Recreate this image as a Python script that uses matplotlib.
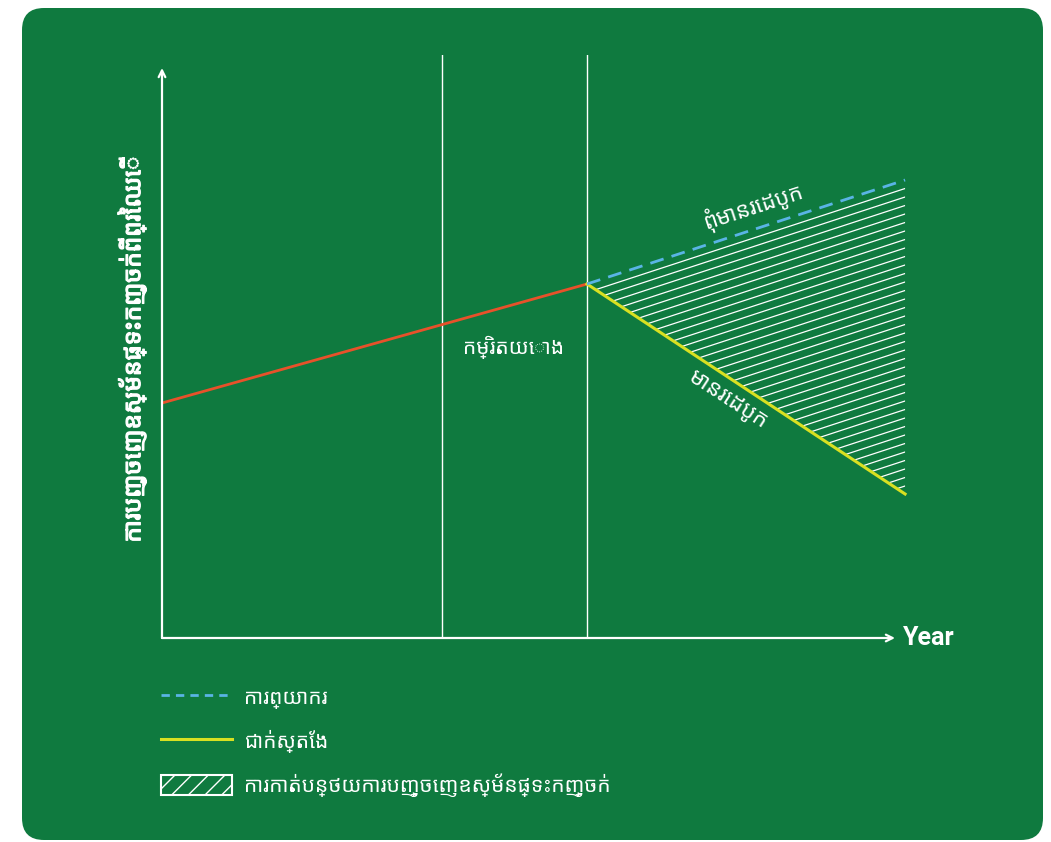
import numpy as np
import matplotlib
matplotlib.use("Agg")
import matplotlib.pyplot as plt
import matplotlib.patheffects as pe
from matplotlib.patches import FancyBboxPatch, Polygon, Patch
from matplotlib.lines import Line2D

# --- data (x in years from start, y in relative emission units) ---
ref_years = [0, 15.18]
ref_emis = [23.5, 35.4]
proj_years = [15.18, 26.54]
proj_emis = [35.4, 45.8]
actual_years = [15.18, 26.54]
actual_emis = [35.4, 14.4]
period_marks = [10.0, 15.18]

ylabel = "ការបញ្ចេញឧស្ម័នផ្ទះកញ្ចក់ពីព្រៃឈើ"
lbl_ref = "កម្រិតយោង"
lbl_without = "ពុំមានរេដបូក"
lbl_with = "មានរេដបូក"
leg_labels = ["ការព្យាករ", "ជាក់ស្តែង", "ការកាត់បន្ថយការបញ្ចេញឧស្ម័នផ្ទះកញ្ចក់"]

GREEN = "#0f7a3f"
RED = "#e8512a"
YELLOW = "#d8e021"
BLUE = "#5ab4e5"

plt.rcParams["font.family"] = ["Noto Sans Khmer", "Roboto", "DejaVu Sans"]
plt.rcParams["hatch.color"] = "white"

fig = plt.figure(figsize=(10.51, 8.42), dpi=100)

# rounded green card behind everything
bg = fig.add_axes([0, 0, 1, 1])
bg.set_xlim(0, 1051)
bg.set_ylim(842, 0)
bg.axis("off")
bg.add_patch(FancyBboxPatch((22, 8), 1021, 832,
                            boxstyle="round,pad=0,rounding_size=22",
                            fc=GREEN, ec="none"))

ax = fig.add_axes([162 / 1051, (842 - 638) / 842, (930 - 162) / 1051, (638 - 55) / 842])
ax.set_facecolor("none")
ax.set_xlim(0, 27.43)
ax.set_ylim(0, 58.3)
for s in ax.spines.values():
    s.set_visible(False)
ax.set_xticks([])
ax.set_yticks([])

# axes arrows
arr = dict(arrowstyle="->", color="white", lw=1.6, shrinkA=0, shrinkB=0,
           mutation_scale=12)
ax.annotate("", xy=(0, 57.0), xytext=(0, 0), arrowprops=arr, annotation_clip=False)
ax.annotate("", xy=(26.18, 0), xytext=(0, 0), arrowprops=arr, annotation_clip=False)
ax.text(26.46, 0, "Year", color="white", fontsize=18, fontweight="bold",
        family=["Roboto", "DejaVu Sans"], ha="left", va="center")

for xm in period_marks:
    ax.plot([xm, xm], [0, 58.3], color="white", lw=1.0)

# hatched reduction area
poly = Polygon([(proj_years[0], proj_emis[0]), (proj_years[1], proj_emis[1]),
                (actual_years[1], actual_emis[1])], closed=True,
               fc="none", ec="none")
ax.add_patch(poly)
slope = (proj_emis[1] - proj_emis[0]) / (proj_years[1] - proj_years[0])
span = proj_emis[1] - actual_emis[1]
for off in np.arange(0.85, span + 0.85, 0.85):
    y0 = proj_emis[0] - off
    ln, = ax.plot(proj_years, [y0, y0 + slope * (proj_years[1] - proj_years[0])],
                  color="white", lw=0.9)
    ln.set_clip_path(poly)

ax.plot(ref_years, ref_emis, color=RED, lw=2)
ax.plot(actual_years, actual_emis, color=YELLOW, lw=2.2)
ax.plot(proj_years, proj_emis, color=BLUE, lw=2, ls=(0, (5, 3)))

ax.text(12.55, 29.1, lbl_ref, color="white", fontsize=15, ha="center", va="center")
ax.text(21.1, 43.2, lbl_without, color="white", fontsize=16, ha="center",
        va="center", rotation=18)
ax.text(20.2, 23.8, lbl_with, color="white", fontsize=16, ha="center",
        va="center", rotation=-33)

fig.text(132 / 1051, 1 - 360 / 842, ylabel, color="white", fontsize=17.5,
         rotation=90, ha="center", va="center",
         path_effects=[pe.withStroke(linewidth=0.9, foreground="white")])

handles = [Line2D([], [], color=BLUE, lw=2, ls=(0, (3, 2.2))),
           Line2D([], [], color=YELLOW, lw=2.2),
           Patch(fc="none", ec="white", hatch="//", lw=1.5)]
leg = fig.legend(handles, leg_labels, loc="upper left",
                 bbox_to_anchor=(142 / 1051, 1 - 668 / 842), frameon=False,
                 fontsize=15, handlelength=3.4, handleheight=1.1,
                 labelspacing=1.0, handletextpad=0.6, labelcolor="white")

fig.savefig("out.png", dpi=100, facecolor="white")
